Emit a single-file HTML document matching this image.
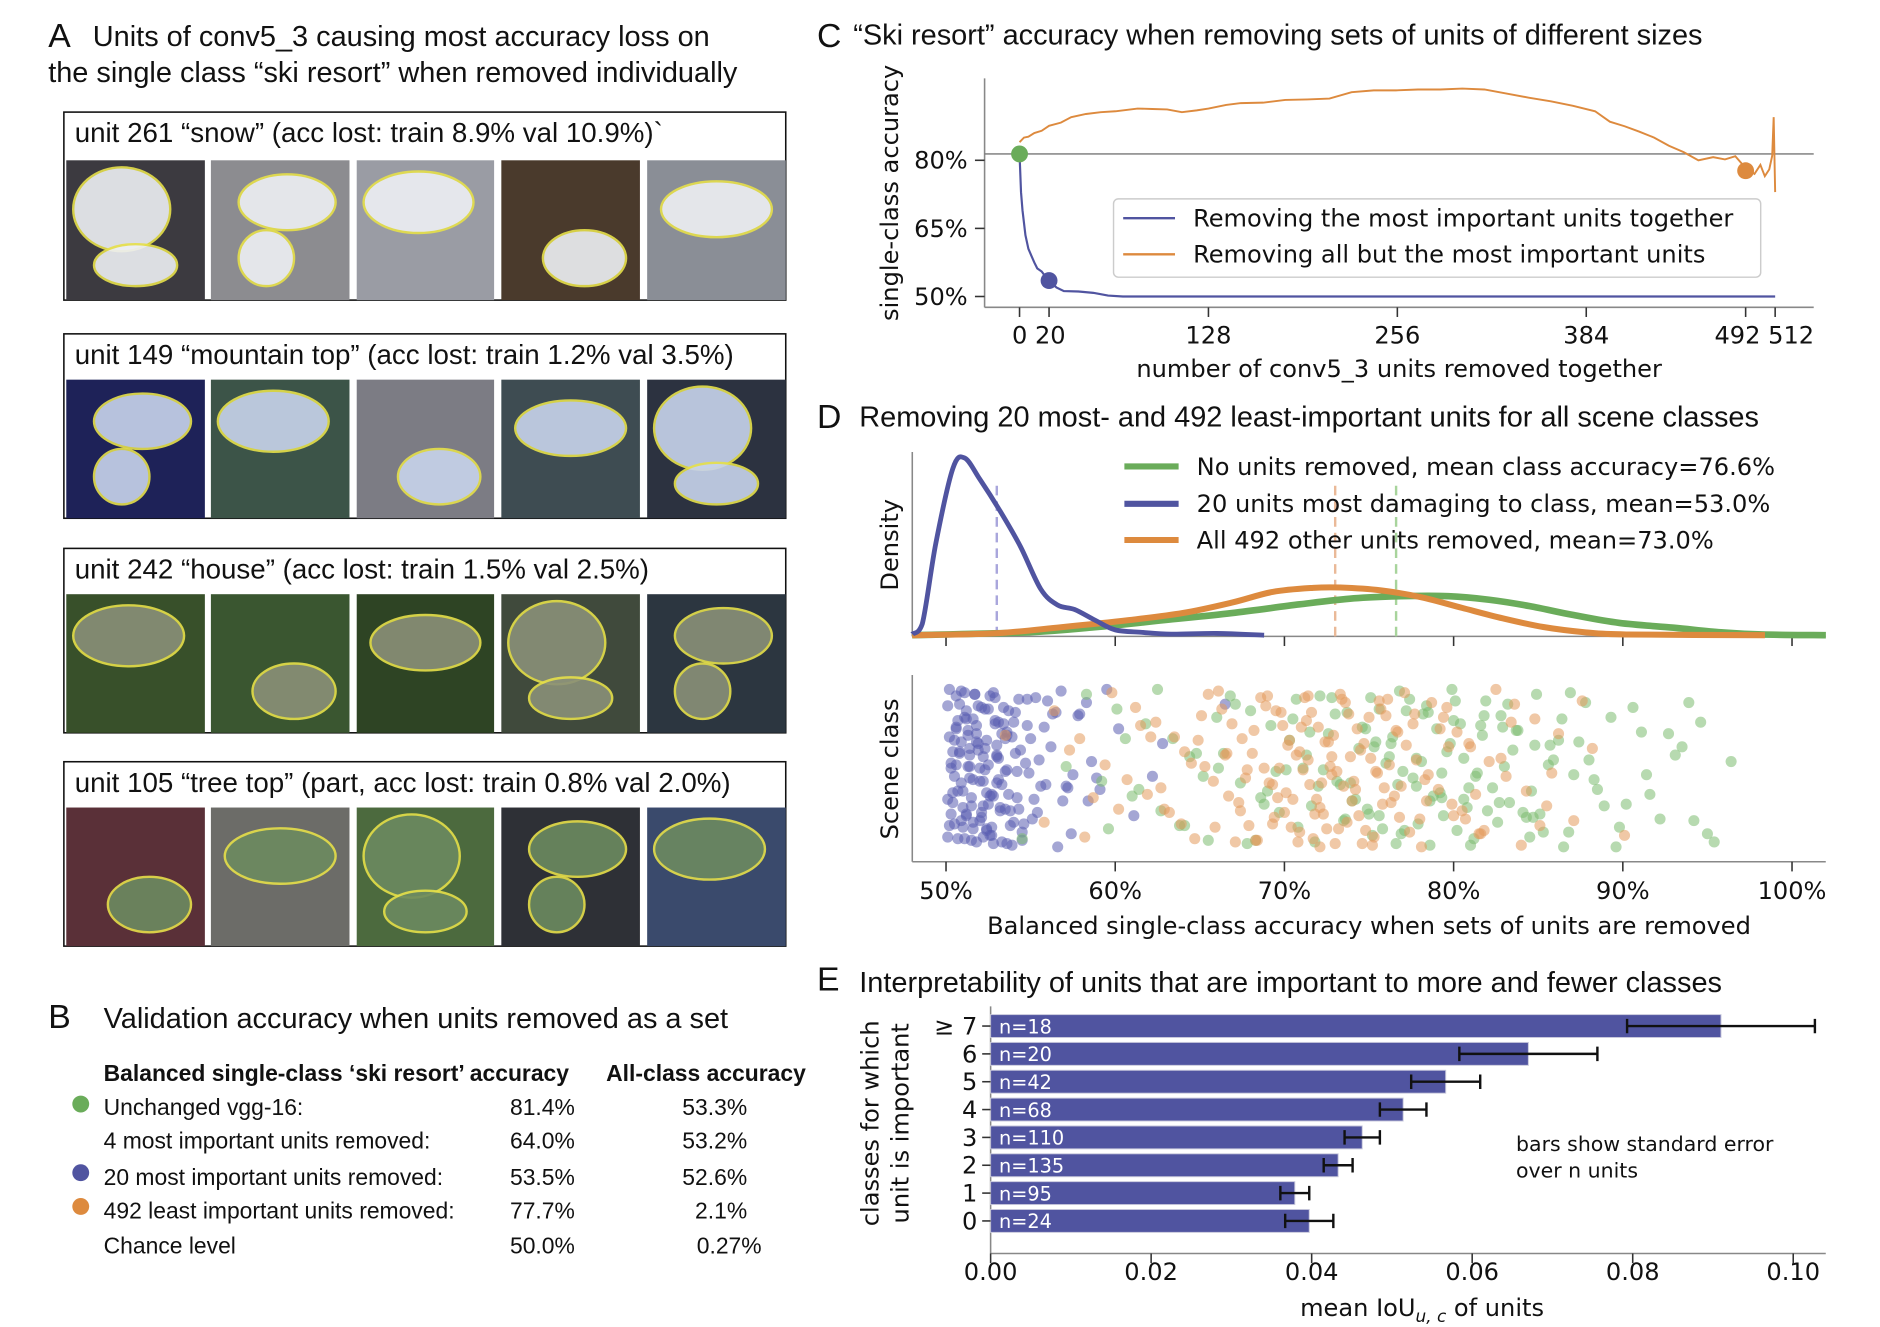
<!DOCTYPE html>
<html><head><meta charset="utf-8"><style>
html,body{margin:0;padding:0;background:#fff}
svg{display:block}
text{font-family:"Liberation Sans",sans-serif;fill:#111}
.dv{font-family:"DejaVu Sans","Liberation Sans",sans-serif}
</style></head><body>
<svg id="fig" xmlns="http://www.w3.org/2000/svg" width="1880" height="1327" viewBox="0 0 1560 1101" preserveAspectRatio="none">
<g id="panelA">
<text x="40" y="39" font-size="28">A</text>
<text x="77" y="38" font-size="24">Units of conv5_3 causing most accuracy loss on</text>
<text x="40" y="68" font-size="24">the single class “ski resort” when removed individually</text>
</g>
<g id="panelB">
<text x="40" y="853" font-size="28">B</text>
<text x="86" y="853" font-size="24">Validation accuracy when units removed as a set</text>
<text x="86" y="897" font-size="19" font-weight="bold">Balanced single-class ‘ski resort’ accuracy</text>
<text x="503" y="897" font-size="19" font-weight="bold">All-class accuracy</text>
<circle cx="67" cy="916" r="7" fill="#6aac5a"/>
<circle cx="67" cy="973" r="7" fill="#5054a0"/>
<circle cx="67" cy="1001" r="7" fill="#dd8a3e"/>
<g font-size="19">
<text x="86" y="925">Unchanged vgg-16:</text>
<text x="86" y="953">4 most important units removed:</text>
<text x="86" y="983">20 most important units removed:</text>
<text x="86" y="1011">492 least important units removed:</text>
<text x="86" y="1040">Chance level</text>
<g text-anchor="end">
<text x="477" y="925">81.4%</text>
<text x="477" y="953">64.0%</text>
<text x="477" y="983">53.5%</text>
<text x="477" y="1011">77.7%</text>
<text x="477" y="1040">50.0%</text>
<text x="620" y="925">53.3%</text>
<text x="620" y="953">53.2%</text>
<text x="620" y="983">52.6%</text>
<text x="620" y="1011">2.1%</text>
<text x="632" y="1040">0.27%</text>
</g></g>
</g>
<g id="panelC">
<text x="678" y="39" font-size="28">C</text>
<text x="708" y="37" font-size="24">“Ski resort” accuracy when removing sets of units of different sizes</text>
</g>
<g id="panelD">
<text x="678" y="355" font-size="28">D</text>
<text x="713" y="354" font-size="24">Removing 20 most- and 492 least-important units for all scene classes</text>
</g>
<g id="panelE">
<text x="678" y="822" font-size="28">E</text>
<text x="713" y="823" font-size="24">Interpretability of units that are important to more and fewer classes</text>
</g>
</svg>
<script>
// ---------- Panel C data ----------
const cOrangeUnits=[0,3,6,10,15,20,28,35,45,55,65,80,90,100,110,120,128,140,150,165,180,195,210,225,240,255,270,285,300,315,330,345,360,375,390,400,410,420,430,440,450,460,470,478,485,492,498,502,505,508,510,511,512];
const cOrangeAcc=[84.0,85.0,85.2,86.0,86.5,87.6,88.3,89.5,90.2,90.6,90.8,91.4,91.3,91.2,90.6,91.0,91.4,92.2,92.6,92.7,93.3,93.4,93.6,95.0,95.4,95.4,95.6,95.6,95.8,95.6,94.7,93.8,93.0,92.0,90.8,88.5,87.5,86.3,85.0,83.2,81.8,80.0,80.7,80.2,80.9,78.3,77.0,79.0,76.5,78.0,81.0,89.5,73.0];
const cBlueUnits=[0,1,2,4,6,8,10,12,15,18,20,25,30,40,50,60,70,512];
const cBlueAcc=[81.4,73,69,63.5,60.5,59,57.5,56.2,55.5,54.2,53.5,52,51.2,51.1,50.8,50.2,50,50];
const cXTicks=[0,20,128,256,384,492,512];
const cYTicks=[50,65,80];
const cBaseline=81.4;
// ---------- Panel D data ----------
const dDensX=[48,48.6,49.4,50.4,51.1,52,53.2,54.4,55.6,56.6,57.6,58.8,60,61.6,63.3,66,68.8];
const dDensBlue=[0.006,0.065,0.52,0.94,1.0,0.88,0.70,0.50,0.26,0.17,0.145,0.085,0.03,0.016,0.006,0.01,0];
const dOrangeX=[48,52.8,56.8,60.8,64,66.9,69.3,71.7,73.3,75.7,78.1,80.5,82.9,85.3,87.8,90.2,98.4];
const dDensOrange=[0,0.01,0.045,0.085,0.125,0.184,0.244,0.267,0.269,0.253,0.214,0.154,0.095,0.046,0.016,0.004,0];
const dGreenX=[48,54.8,58.8,62.9,66.9,70.9,74.1,76.9,79.7,82.1,84.5,87,89.8,93,95.8,98.2,102];
const dDensGreen=[0,0.016,0.045,0.085,0.125,0.174,0.208,0.22,0.22,0.2,0.164,0.115,0.069,0.042,0.016,0.004,0];
const dMeans=[53.0,73.0,76.6];
const dXTicks=[50,60,70,80,90,100];
const scatterBlue=[50.2,50.5,50.8,51,51.2,51.5,51.8,52,52.3,52.6,50.3,50.9,51.4,51.9,52.4,52.9,53.2,53.6,54,54.4,50.1,50.6,51.1,51.6,52.1,52.7,53.1,53.5,53.9,54.6,50.4,50.7,51.3,51.7,52.2,52.5,52.8,53.4,53.8,55,50.2,50.8,51.5,52,52.6,53,53.7,54.2,54.8,55.4,50.5,51,51.4,51.8,52.3,52.9,53.3,54.1,55.2,55.8,50.3,50.9,51.6,52.2,52.8,53.5,54.3,55.6,56.3,56.9,50.6,51.2,51.9,52.4,53.1,53.9,54.9,56,57.2,57.8,50.4,51.3,52.1,53,54.5,55.5,56.6,57.5,58.3,59.1,51.1,52.5,53.6,55.1,56.2,57.4,58.6,59.5,62.2,66.5,50.7,51.6,52.2,53.3,50.9,51.4,52.7,54.7,56.8,58.9,50.1,50.4,50.7,51,51.3,51.6,51.9,52.2,52.5,52.8,53.1,53.4,53.7,54,54.3,50.2,50.5,50.8,51.1,51.4,51.7,52,52.3,52.6,52.9,53.2,53.5,53.8,54.1,54.5,50.3,50.6,50.9,51.2,51.5,51.8,52.1,52.4,52.7,53,53.3,53.6,55.3,55.9,56.5,50.1,50.6,51.2,51.8,52.4,53,53.6,54.2,54.8,57.1,57.9,58.4,60.2,61.1,62.8];
const scatterOrange=[53.5,55.8,57.3,58.2,59.4,59.8,60.7,61.2,61.9,62.4,62.9,63.5,63.9,64.1,64.7,65.3,65.5,65.8,66.3,66.7,66.9,67.4,67.5,67.9,68.1,68.4,68.8,69,69.1,69.5,69.6,69.9,70,70.3,70.4,70.7,70.8,71.1,71.2,71.5,71.6,71.9,72,72.3,72.4,72.5,72.8,73,73.1,73.4,73.5,73.8,74,74.3,74.4,74.7,74.8,75.1,75.2,75.5,75.6,75.9,76,76.3,76.6,76.8,77.2,77.4,77.8,78.1,78.5,78.7,79.1,79.4,79.9,80.2,80.7,81,81.5,82.1,82.5,83.1,83.6,84.3,84.8,85.5,86.2,87.1,88.2,90.1,64.5,66.1,67.7,68.9,70.1,71.3,72.1,72.9,73.7,74.5,75.3,76.2,77.1,78.3,79.6,81.3,83.4,60.2,62.1,69.3,70.9,71.7,72.7,73.3,74.1,75.7,76.5,77.6,80.5,57.9,85.1,66.6,68.3,69.7,71.4,72.2,56.4,58.7,61.5,63.2,64.9,65.9,66.5,67.1,67.8,68.6,69.3,69.8,70.5,71,71.8,72.6,73.2,73.9,74.6,75.4,76.1,76.9,77.7,78.4,79.2,80,80.9,81.8,82.8,84,85.8,87.6,62.7,65.1,67.3,68.2,69.4,70.2,70.9,71.4,72.1,72.8,73.6,74.2,75,75.8,76.7,78,79.7,81.6];
const scatterGreen=[54.5,57.1,58.3,59.2,60.1,61,61.8,62.7,63.4,64.1,64.8,65.5,66.1,66.8,67.4,68,68.6,69.2,69.7,70.3,70.8,71.3,71.8,72.3,72.8,73.3,73.7,74.2,74.6,75,75.4,75.8,76.2,76.6,77,77.4,77.8,78.2,78.6,79,79.4,79.8,80.2,80.6,81,81.4,81.9,82.3,82.8,83.3,83.8,84.3,84.8,85.3,85.9,86.5,87.1,87.8,88.5,89.3,90.2,91.1,92.2,93.5,95,96.4,62.5,65.2,67.1,69,70.5,71.6,72.6,73.5,74.4,75.2,76,76.8,77.6,78.4,79.2,80,80.8,81.7,82.6,83.5,84.5,85.6,86.9,88.3,90.6,91.6,94.6,74.9,76.4,77.9,79.6,81.2,83,84.9,73.1,75.6,78.8,80.4,82,60.6,63.8,66.4,68.3,71.1,72.1,73.9,77.2,79.3,81.6,84.1,86.2,89.8,93.1,95.4,70.1,75.1,76.7,78.5,80.6,82.9,85.1,87.4,59.6,64.4,67.8,69.5,70.7,72,73,74,74.8,75.6,76.3,77.1,77.8,78.6,79.3,80.1,80.9,81.8,82.7,83.7,84.7,85.7,86.8,88,89.6,91.4,93.9,61.4,66,68.8,71.5,73.6,75.3,76.9,78.1,79.9,81.3,83.2,84.6,86.4,88.9,92.7,94.2];
// ---------- Panel E data ----------
const eCategories=["0","1","2","3","4","5","6","≥ 7"];
const eMeans=[0.0397,0.0379,0.0433,0.0463,0.0514,0.0567,0.067,0.091];
const eErrors=[0.003,0.0018,0.0018,0.0022,0.0029,0.0043,0.0086,0.0117];
const eCounts=[24,95,135,110,68,42,20,18];
const eXTicks=[0,0.02,0.04,0.06,0.08,0.10];

const NS="http://www.w3.org/2000/svg";
const fig=document.getElementById('fig');
function mk(tag,attrs,parent,txt){const e=document.createElementNS(NS,tag);for(const k in attrs)e.setAttribute(k,attrs[k]);if(txt!==undefined)e.textContent=txt;(parent||fig).appendChild(e);return e;}
function smooth(pts){let d='M'+pts[0][0]+','+pts[0][1];for(let i=0;i<pts.length-1;i++){const p0=pts[Math.max(0,i-1)],p1=pts[i],p2=pts[i+1],p3=pts[Math.min(pts.length-1,i+2)];
 const c1=[p1[0]+(p2[0]-p0[0])/6,p1[1]+(p2[1]-p0[1])/6],c2=[p2[0]-(p3[0]-p1[0])/6,p2[1]-(p3[1]-p1[1])/6];
 d+=`C${c1[0]},${Math.min(527,c1[1])} ${c2[0]},${Math.min(527,c2[1])} ${p2[0]},${p2[1]}`;}return d;}

// ---------- Panel A images ----------
const rowsA=[
 {t:'unit 261 “snow” (acc lost: train 8.9% val 10.9%)`',box:[93,249],img:[133,249],cols:['#3c3a40','#8c8c90','#9a9ca4','#4a3a2c','#8a8e96'],blob:'#eef0f4'},
 {t:'unit 149 “mountain top” (acc lost: train 1.2% val 3.5%)',box:[277,430],img:[315,430],cols:['#1e2258','#3c5448','#7c7c84','#3e4c52','#2c3240'],blob:'#c8d4ec'},
 {t:'unit 242 “house” (acc lost: train 1.5% val 2.5%)',box:[455,608],img:[493,608],cols:['#38502a','#3a5630','#2e4424','#404a3c','#2c3640'],blob:'#8a9078'},
 {t:'unit 105 “tree top” (part, acc lost: train 0.8% val 2.0%)',box:[632,785],img:[670,785],cols:['#5a3038','#6c6c68','#4c6a3e','#2e3036','#3a4a6c'],blob:'#6c8a60'}];
const colsX=[[55,170],[175,290],[296,410],[416,531],[537,652]];
const blobs=[[[0.4,0.35,0.35,0.3],[0.5,0.75,0.3,0.15]],[[0.55,0.3,0.35,0.2],[0.4,0.7,0.2,0.2]],[[0.45,0.3,0.4,0.22]],[[0.6,0.7,0.3,0.2]],[[0.5,0.35,0.4,0.2]]];
rowsA.forEach((r,ri)=>{
 const g=mk('g',{});
 
 
 const bx=mk('rect',{x:53,y:r.box[0],width:599,height:r.box[1]-r.box[0],fill:'#fff',stroke:'#111','stroke-width':1.3},g);
 
 
 const tt=mk('text',{x:62,y:r.box[0]+25,'font-size':23},g,r.t);
 
 
 colsX.forEach((c,ci)=>{
  const w=c[1]-c[0],h=r.img[1]-r.img[0];
  const im=mk('rect',{x:c[0],y:r.img[0],width:w,height:h,fill:r.cols[ci]},g);
  
  
  blobs[(ci+ri)%5].forEach(b=>{
   const el=mk('ellipse',{cx:c[0]+b[0]*w,cy:r.img[0]+b[1]*h,rx:b[2]*w,ry:b[3]*h,fill:r.blob,stroke:'#e6e04a','stroke-width':2,opacity:0.9},g);
   
   
  });
 });
});

// ---------- Panel C ----------
const cX=u=>846+u*(1473-846)/512;
const cY=a=>246-(a-50)*(246-133)/30;
const gC=mk('g',{});


mk('line',{x1:817,y1:65,x2:817,y2:255,stroke:'#888','stroke-width':1.3},gC);
mk('line',{x1:817,y1:255,x2:1505,y2:255,stroke:'#888','stroke-width':1.3},gC);
const base=mk('line',{x1:817,y1:cY(cBaseline),x2:1505,y2:cY(cBaseline),stroke:'#777','stroke-width':1.2},gC);


cXTicks.forEach(t=>{mk('line',{x1:cX(t),y1:255,x2:cX(t),y2:263,stroke:'#333','stroke-width':1.3},gC);});
const cXLab=[['0 20',862],['128',cX(128)],['256',cX(256)],['384',cX(384)],['492 512',1464]];
cXLab.forEach(l=>{const e=mk('text',{x:l[1],y:285,'font-size':20,'text-anchor':'middle',class:'dv'},gC,l[0]);
 
 });
cYTicks.forEach(t=>{mk('line',{x1:809,y1:cY(t),x2:817,y2:cY(t),stroke:'#333','stroke-width':1.3},gC);
 const e=mk('text',{x:803,y:cY(t)+7,'font-size':20,'text-anchor':'end',class:'dv'},gC,t+'%');
 
 });
const oPath=mk('polyline',{points:cOrangeUnits.map((u,i)=>cX(u)+','+cY(cOrangeAcc[i])).join(' '),fill:'none',stroke:'#dd8a3e','stroke-width':1.6},gC);


const bPath=mk('polyline',{points:cBlueUnits.map((u,i)=>cX(u)+','+cY(cBlueAcc[i])).join(' '),fill:'none',stroke:'#5054a0','stroke-width':1.8},gC);


const dG=mk('circle',{cx:cX(0),cy:cY(cBaseline),r:7,fill:'#6aac5a'},gC);


const dB=mk('circle',{cx:cX(20),cy:cY(cBlueAcc[cBlueUnits.indexOf(20)]),r:7,fill:'#5054a0'},gC);


const dO=mk('circle',{cx:cX(492),cy:cY(77.7),r:7,fill:'#dd8a3e'},gC);


const lg=mk('g',{},gC);


mk('rect',{x:924,y:165,width:537,height:65,rx:4,fill:'#fff',stroke:'#ccc','stroke-width':1.2},lg);
mk('line',{x1:932,y1:181,x2:975,y2:181,stroke:'#5054a0','stroke-width':2},lg);
mk('line',{x1:932,y1:211,x2:975,y2:211,stroke:'#dd8a3e','stroke-width':2},lg);
let e1=mk('text',{x:990,y:188,'font-size':20,class:'dv'},lg,'Removing the most important units together');


e1=mk('text',{x:990,y:218,'font-size':20,class:'dv'},lg,'Removing all but the most important units');


e1=mk('text',{x:0,y:0,'font-size':20,'text-anchor':'middle',class:'dv',transform:'translate(745,160) rotate(-90)'},gC,'single-class accuracy');


e1=mk('text',{x:1161,y:313,'font-size':20,'text-anchor':'middle',class:'dv'},gC,'number of conv5_3 units removed together');



// ---------- Panel D ----------
const dX=v=>785+(v-50)*(1487-785)/50;
const dY=d=>527-d*147;
const gD=mk('g',{});


mk('line',{x1:757,y1:375,x2:757,y2:528,stroke:'#888','stroke-width':1.3},gD);
mk('line',{x1:757,y1:528,x2:1515,y2:528,stroke:'#888','stroke-width':1.3},gD);
mk('line',{x1:757,y1:560,x2:757,y2:715,stroke:'#888','stroke-width':1.3},gD);
mk('line',{x1:757,y1:715,x2:1515,y2:715,stroke:'#888','stroke-width':1.3},gD);
dXTicks.forEach(t=>{
 mk('line',{x1:dX(t),y1:528,x2:dX(t),y2:536,stroke:'#333','stroke-width':1.3},gD);
 mk('line',{x1:dX(t),y1:715,x2:dX(t),y2:723,stroke:'#333','stroke-width':1.3},gD);
 const e=mk('text',{x:dX(t),y:746,'font-size':20,'text-anchor':'middle',class:'dv'},gD,t+'%');
 
 
});
const meanCols=['#a9a6dc','#eab998','#a8d49c'];
dMeans.forEach((m,i)=>{const e=mk('line',{x1:dX(m),y1:403,x2:dX(m),y2:528,stroke:meanCols[i],'stroke-width':2,'stroke-dasharray':'8,5'},gD);
 
 });
function densPath(xs,ds,col,w,name){const e=mk('path',{d:smooth(xs.map((x,i)=>[dX(x),dY(ds[i])])),fill:'none',stroke:col,'stroke-width':w,'stroke-linejoin':'round'},gD);
 
 }
densPath(dGreenX,dDensGreen,'#6aac5a',5.5,'density-no-units-removed');
densPath(dOrangeX,dDensOrange,'#dd8a3e',5,'density-492-removed');
densPath(dDensX,dDensBlue,'#5054a0',4,'density-20-removed');
const lgD=[['#6aac5a','No units removed, mean class accuracy=76.6%',387],['#5054a0','20 units most damaging to class, mean=53.0%',418],['#dd8a3e','All 492 other units removed, mean=73.0%',448]];
lgD.forEach(l=>{mk('line',{x1:933,y1:l[2],x2:978,y2:l[2],stroke:l[0],'stroke-width':5},gD);
 const e=mk('text',{x:993,y:l[2]+7,'font-size':20,class:'dv'},gD,l[1]);
 
 });
function scat(arr,col,name,off){arr.forEach((v,i)=>{const yy=572+(((i+off)*53)%97)/97*132;
 const c=mk('circle',{cx:dX(v),cy:yy,r:4.6,fill:col,'fill-opacity':0.55},gD);
 
 });}
scat(scatterBlue,'#5a5cb0','scatter-point-20-removed',0);
scat(scatterGreen,'#7cbc70','scatter-point-no-removal',31);
scat(scatterOrange,'#e49a5c','scatter-point-492-removed',17);
e1=mk('text',{x:0,y:0,'font-size':20,'text-anchor':'middle',class:'dv',transform:'translate(745,452) rotate(-90)'},gD,'Density');


e1=mk('text',{x:0,y:0,'font-size':20,'text-anchor':'middle',class:'dv',transform:'translate(745,638) rotate(-90)'},gD,'Scene class');


e1=mk('text',{x:1136,y:775,'font-size':20,'text-anchor':'middle',class:'dv'},gD,'Balanced single-class accuracy when sets of units are removed');



// ---------- Panel E ----------
const eX=v=>822+v*(1488-822)/0.10;
const eY=i=>1013-i*23.1;
const gE=mk('g',{});


mk('line',{x1:822,y1:835,x2:822,y2:1040,stroke:'#888','stroke-width':1.3},gE);
mk('line',{x1:822,y1:1040,x2:1515,y2:1040,stroke:'#888','stroke-width':1.3},gE);
eXTicks.forEach(t=>{mk('line',{x1:eX(t),y1:1040,x2:eX(t),y2:1048,stroke:'#333','stroke-width':1.3},gE);
 const e=mk('text',{x:eX(t),y:1062,'font-size':20,'text-anchor':'middle',class:'dv'},gE,t.toFixed(2));
 
 });
eCategories.forEach((c,i)=>{
 const y=eY(i);
 const b=mk('rect',{x:822,y:y-9.5,width:eX(eMeans[i])-822,height:19,fill:'#5054a0',stroke:'#c8c8dc','stroke-width':0.8},gE);
 
 
 const lo=eX(eMeans[i]-eErrors[i]),hi=eX(eMeans[i]+eErrors[i]);
 const eb=mk('path',{d:`M${lo},${y}H${hi}M${lo},${y-6}V${y+6}M${hi},${y-6}V${y+6}`,stroke:'#111','stroke-width':2,fill:'none'},gE);
 
 
 const nl=mk('text',{x:829,y:y+6,'font-size':16,fill:'#fff',class:'dv',style:'fill:#fff'},gE,'n='+eCounts[i]);
 
 
 mk('line',{x1:815,y1:y,x2:822,y2:y,stroke:'#333','stroke-width':1.3},gE);
 const tl=mk('text',{x:811,y:y+7,'font-size':20,'text-anchor':'end',class:'dv'},gE,c);
 
 
});
e1=mk('text',{x:1258,y:955,'font-size':17,class:'dv'},gE,'bars show standard error');


e1=mk('text',{x:1258,y:977,'font-size':17,class:'dv'},gE,'over n units');


e1=mk('text',{x:0,y:0,'font-size':20,'text-anchor':'middle',class:'dv',transform:'translate(729,932) rotate(-90)'},gE,'classes for which');


e1=mk('text',{x:0,y:0,'font-size':20,'text-anchor':'middle',class:'dv',transform:'translate(754,932) rotate(-90)'},gE,'unit is important');


e1=mk('text',{x:1180,y:1092,'font-size':20,'text-anchor':'middle',class:'dv'},gE);


mk('tspan',{},e1,'mean IoU');
mk('tspan',{'font-size':14,dy:5,'font-style':'italic'},e1,'u, c');
mk('tspan',{dy:-5},e1,' of units');
</script>
</body></html>
